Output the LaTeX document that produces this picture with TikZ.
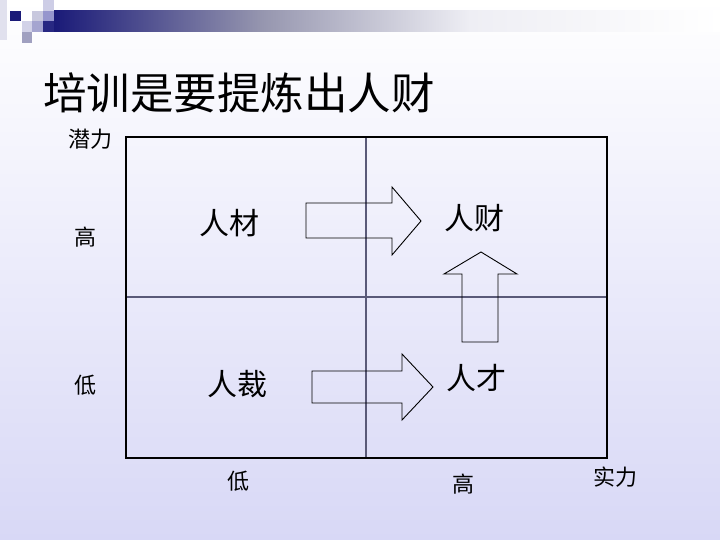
\documentclass[tikz,border=0pt]{standalone}
\usepackage{fontspec}
\newfontfamily\cjk{Noto Sans CJK SC}
\definecolor{navy}{RGB}{26,26,120}
\definecolor{bgbot}{RGB}{216,216,246}
\definecolor{divc}{RGB}{90,90,120}
\definecolor{barmid}{RGB}{150,150,175}
\definecolor{barend}{RGB}{238,238,244}
\definecolor{sqa}{RGB}{200,200,222}
\definecolor{sqb}{RGB}{205,205,230}
\definecolor{sqc}{RGB}{150,150,205}
\definecolor{sqd}{RGB}{40,40,130}
\definecolor{sqe}{RGB}{210,210,232}
\definecolor{sqf}{RGB}{165,165,208}
\definecolor{sqg}{RGB}{160,160,192}
\definecolor{sqh}{RGB}{225,225,238}
\begin{document}
\begin{tikzpicture}[x=1pt,y=-1pt,
  lbl/.style={font=\cjk\fontsize{22}{22}\selectfont, inner sep=0pt},
  big/.style={font=\cjk\fontsize{30}{30}\selectfont, inner sep=0pt},
  arr/.style={draw=black, line width=0.9pt, line join=miter}]
\useasboundingbox (0,0) rectangle (720,540);
\shade[top color=white, bottom color=bgbot] (0,0) rectangle (720,540);
% header decoration
\shade[left color=navy, right color=barend, middle color=barmid] (54,11) rectangle (470,32);
\shade[left color=barend, right color=white] (470,11) rectangle (720,32);
\fill[navy] (10,11) rectangle (21,21);
\fill[sqa] (32,11) rectangle (43,21);
\fill[sqb] (43,0) rectangle (54,11);
\fill[sqc] (43,11) rectangle (54,21);
\fill[sqd] (43,21) rectangle (54,32);
\fill[sqe] (22,21) rectangle (32,32);
\fill[sqf] (32,21) rectangle (43,32);
\fill[sqg] (22,32) rectangle (32,43);
\fill[sqh] (0,0) rectangle (7,40);
% title
\node[anchor=west, inner sep=0pt, font=\cjk\fontsize{43.5}{43.5}\selectfont] (title) at (43,93) {培训是要提炼出人财};
% grid
\coordinate (tl) at (126,137);
\coordinate (br) at (607,458);
\draw[divc, line width=1.3pt] (366,137) -- (366,458);
\draw[divc, line width=1.3pt] (126,297) -- (607,297);
\draw[black, line width=2pt] (tl) rectangle (br);
% axis labels
\node[lbl] (qianli) at (90,139) {潜力};
\node[lbl] (ygao) at (85,237) {高};
\node[lbl] (ydi) at (85,385) {低};
\node[lbl] (xdi) at (238,481) {低};
\node[lbl] (xgao) at (463,484) {高};
\node[lbl] (shili) at (615,477) {实力};
% quadrant labels
\node[big] (rencai1) at (229,223) {人材};
\node[big] (rencai2) at (474,218) {人财};
\node[big] (rencai3) at (237,384) {人裁};
\node[big] (rencai4) at (476,378) {人才};
% arrows
\draw[arr] (306,203) -- (392,203) -- (392,187) -- (421,221) -- (392,255) -- (392,238) -- (306,238) -- cycle;
\draw[arr] (312,371) -- (402,371) -- (402,354) -- (433,387) -- (402,420) -- (402,403) -- (312,403) -- cycle;
\draw[arr] (462,342) -- (462,274) -- (444,274) -- (481,252) -- (517,274) -- (498,274) -- (498,342) -- cycle;
\end{tikzpicture}
\end{document}
